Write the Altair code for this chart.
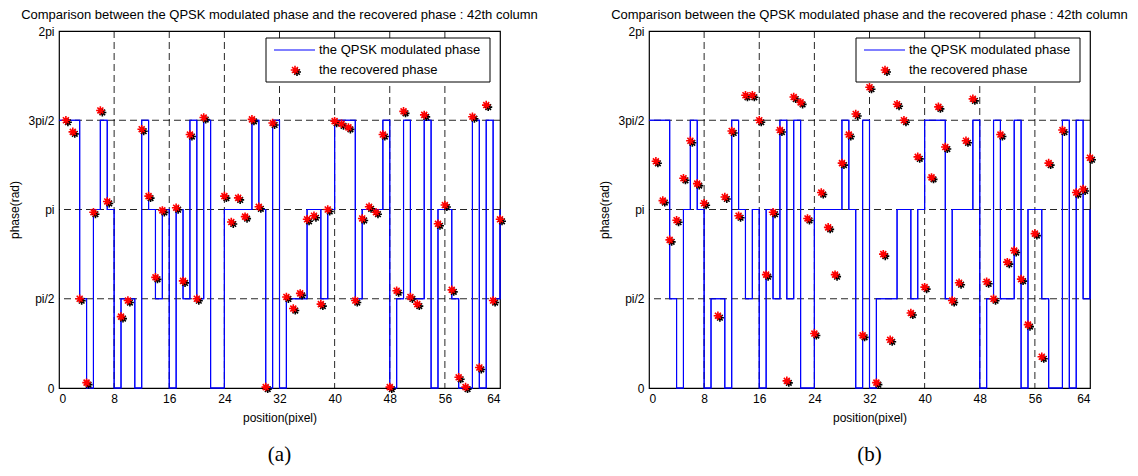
import altair as alt
import numpy as np
import pandas as pd

# ---------------- data ----------------
TITLE = "Comparison between the QPSK modulated phase and the recovered phase : 42th column"
X_LABEL = "position(pixel)"
Y_LABEL = "phase(rad)"
LEGEND_LABELS = ["the QPSK modulated phase", "the recovered phase"]
PANEL_LABELS = ["(a)", "(b)"]
X_TICKS = [0, 8, 16, 24, 32, 40, 48, 56, 64]
Y_TICK_LABELS = ["0", "pi/2", "pi", "3pi/2", "2pi"]

# QPSK modulated phase (multiples of pi/2) at step positions 0..64
STEP_POS = list(range(0, 65))
QPSK_STEPS = [3, 3, 3, 1, 0, 2, 3, 2, 0, 1, 1, 0, 3, 2, 1, 2,
              0, 2, 1, 3, 1, 3, 0, 0, 2, 2, 2, 2, 3, 2, 0, 3,
              0, 1, 1, 1, 2, 2, 1, 2, 3, 3, 3, 1, 2, 2, 2, 3,
              0, 1, 3, 1, 1, 3, 0, 2, 2, 1, 0, 0, 3, 0, 3, 1, 2]

# recovered phase (multiples of pi/2) at pixels 1..64, None = not visible
PIXELS = list(range(1, 65))
REC_A = [3.00, 2.87, 1.00, 0.06, 1.97, 3.11, 2.09, None, 0.80, 0.98, None, 2.90, 2.15, 1.24, 1.99, None,
         2.02, 1.20, 2.84, 1.00, 3.03, None, None, 2.15, 1.86, 2.13, 1.92, 3.01, 2.03, 0.01, 2.97, None,
         1.02, 0.89, 1.06, 1.89, 1.93, 0.94, 2.00, 2.99, 2.96, 2.92, 0.98, 1.90, 2.03, 1.97, 2.84, 0.01,
         1.09, 3.10, 1.02, 0.94, 3.06, None, 1.84, 2.05, 1.10, 0.12, 0.01, 3.04, 0.23, 3.17, 0.98, 1.89]
REC_B = [2.54, 2.10, 1.66, 1.88, 2.35, 2.77, 2.29, 2.07, None, 0.81, 2.14, 2.88, 1.93, 3.28, 3.28, 3.00,
         1.27, 1.97, 2.89, 0.08, 3.26, 3.20, 1.90, 0.61, 2.19, 1.80, 1.27, 2.52, 2.84, 3.07, 0.59, 3.37,
         0.06, 1.50, 0.54, 3.18, 3.00, 0.84, 2.59, 1.13, 2.36, 3.15, 2.70, 0.98, 1.18, 2.77, 3.24, None,
         1.19, 1.00, 2.84, 1.41, 1.54, 1.22, 0.71, 1.73, 0.35, 2.52, None, 2.89, None, 2.19, 2.23, 2.58]

HALF_PI = np.pi / 2
W, H = 441, 357
FONT = "Liberation Sans"
ASTERISK = "M-1,0L1,0M0,-1L0,1M-0.7,-0.7L0.7,0.7M-0.7,0.7L0.7,-0.7"
GRID_STYLE = dict(color="black", strokeDash=[7, 4], strokeWidth=1, opacity=0.85)

steps_df = pd.DataFrame({"x": STEP_POS, "y": np.array(QPSK_STEPS, dtype=float) * HALF_PI})
label_expr = "[" + ",".join("'%s'" % t for t in Y_TICK_LABELS) + "][round(datum.value / (PI / 2))]"
y_ticks = [k * HALF_PI for k in range(len(Y_TICK_LABELS))]
grid_x_df = pd.DataFrame({"x": X_TICKS[1:-1]})
grid_y_df = pd.DataFrame({"y": y_ticks[1:-1]})


def panel(rec, caption):
    pts = pd.DataFrame({"x": PIXELS, "y": [None if v is None else v * HALF_PI for v in rec]}).dropna()
    xs = alt.X("x:Q", scale=alt.Scale(domain=[0, 64], nice=False),
               axis=alt.Axis(values=X_TICKS, title=X_LABEL, labelPadding=5, titlePadding=8))
    ys = alt.Y("y:Q", scale=alt.Scale(domain=[0, 2 * np.pi], nice=False, zero=False),
               axis=alt.Axis(values=y_ticks, labelExpr=label_expr, title=Y_LABEL,
                             labelPadding=5, titlePadding=6))
    line = alt.Chart(steps_df).mark_line(interpolate="step-after", color="#0000ff",
                                         strokeWidth=1.1).encode(x=xs, y=ys)
    gx = alt.Chart(grid_x_df).mark_rule(**GRID_STYLE).encode(x="x:Q")
    gy = alt.Chart(grid_y_df).mark_rule(**GRID_STYLE).encode(y="y:Q")
    shadow = alt.Chart(pts).mark_point(shape=ASTERISK, filled=False, color="black", strokeWidth=1.6,
                                       size=64, opacity=1, xOffset=2, yOffset=2).encode(x="x:Q", y="y:Q")
    red = alt.Chart(pts).mark_point(shape=ASTERISK, filled=False, color="#ff0000", strokeWidth=1.6,
                                    size=72, opacity=1).encode(x="x:Q", y="y:Q")

    one = pd.DataFrame({"k": [0]})
    box = alt.Chart(one).mark_rect(fill="white", stroke="black", strokeWidth=1).encode(
        x=alt.value(207), x2=alt.value(431), y=alt.value(7), y2=alt.value(51))
    leg_line = alt.Chart(one).mark_rule(color="#0000ff", strokeWidth=1).encode(
        x=alt.value(215), x2=alt.value(256), y=alt.value(19))
    leg_shadow = alt.Chart(one).mark_point(shape=ASTERISK, filled=False, color="black", strokeWidth=1.6,
                                           size=64, opacity=1, xOffset=2, yOffset=2).encode(
        x=alt.value(236), y=alt.value(39))
    leg_red = alt.Chart(one).mark_point(shape=ASTERISK, filled=False, color="#ff0000", strokeWidth=1.6,
                                        size=72, opacity=1).encode(x=alt.value(236), y=alt.value(39))
    leg_txt1 = alt.Chart(pd.DataFrame({"t": [LEGEND_LABELS[0]]})).mark_text(
        align="left", baseline="middle", font=FONT, fontSize=13, color="black").encode(
        x=alt.value(260), y=alt.value(19), text="t:N")
    leg_txt2 = alt.Chart(pd.DataFrame({"t": [LEGEND_LABELS[1]]})).mark_text(
        align="left", baseline="middle", font=FONT, fontSize=13, color="black").encode(
        x=alt.value(260), y=alt.value(39), text="t:N")
    cap = alt.Chart(pd.DataFrame({"t": [caption]})).mark_text(
        align="center", baseline="middle", font="Liberation Serif", fontSize=21, color="black").encode(
        x=alt.value(W / 2), y=alt.value(H + 67), text="t:N")

    return alt.layer(line, gx, gy, line, shadow, red, box, leg_line, leg_shadow, leg_red,
                     leg_txt1, leg_txt2, cap).properties(
        width=W, height=H,
        title=alt.TitleParams(TITLE, anchor="middle", fontSize=13, fontWeight="normal", font=FONT,
                              color="black", offset=3))


chart = alt.hconcat(panel(REC_A, PANEL_LABELS[0]), panel(REC_B, PANEL_LABELS[1]),
                    spacing=149, bounds="flush").properties(
    padding={"left": 0, "top": 0, "right": 0, "bottom": 0},
    background="white",
).configure_view(stroke="black", strokeWidth=1.2).configure_axis(
    grid=False, domain=False, ticks=False,
    labelFont=FONT, labelFontSize=12, labelColor="black",
    titleFont=FONT, titleFontSize=12, titleFontWeight="normal", titleColor="black",
)

chart.save("out.html", embed_options={"renderer": "svg", "actions": False})
